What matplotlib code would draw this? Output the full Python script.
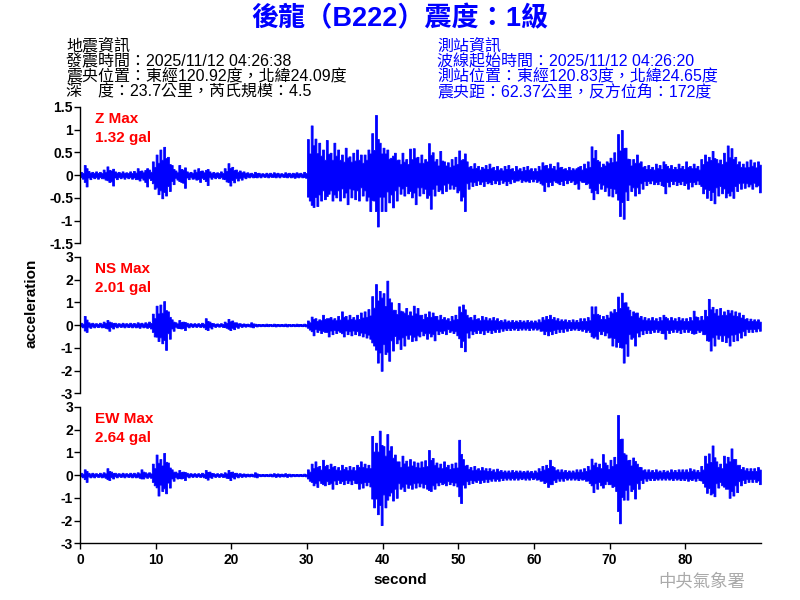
import numpy as np
import matplotlib
matplotlib.use("Agg")
import matplotlib.pyplot as plt

plt.rcParams["axes.unicode_minus"] = False
plt.rcParams["font.family"] = ["Liberation Sans", "Noto Sans CJK TC", "DejaVu Sans"]

# ---- data: envelope of each trace in 0.5 s bins (peak up, then peak down) ----
bin_width = 0.5

z_up = [0.07,0.22,0.09,0.07,0.08,0.07,0.12,0.19,0.10,0.08,0.07,0.08,0.06,0.08,0.09,0.15,0.10,0.11,0.12,0.30,
        0.45,0.56,0.62,0.40,0.22,0.10,0.22,0.12,0.08,0.07,0.12,0.15,0.10,0.11,0.08,0.07,0.06,0.08,0.15,0.26,
        0.18,0.12,0.10,0.08,0.06,0.05,0.07,0.05,0.04,0.05,0.05,0.06,0.05,0.04,0.06,0.05,0.05,0.06,0.05,0.07,
        0.79,1.09,0.80,0.71,0.56,0.77,0.49,0.71,0.56,0.45,0.60,0.41,0.49,0.56,0.45,0.45,0.56,0.92,1.32,0.71,
        0.60,0.56,0.38,0.49,0.34,0.49,0.35,0.58,0.59,0.40,0.45,0.35,0.70,0.50,0.35,0.53,0.30,0.28,0.35,0.40,
        0.54,0.35,0.30,0.20,0.26,0.20,0.18,0.22,0.25,0.18,0.20,0.15,0.20,0.22,0.15,0.20,0.15,0.18,0.20,0.15,
        0.15,0.20,0.28,0.22,0.25,0.20,0.28,0.18,0.15,0.18,0.15,0.15,0.20,0.25,0.30,0.63,0.55,0.30,0.25,0.30,
        0.38,0.50,0.90,0.99,0.60,0.35,0.35,0.45,0.30,0.20,0.22,0.18,0.25,0.22,0.30,0.20,0.22,0.18,0.25,0.20,
        0.30,0.20,0.25,0.20,0.35,0.45,0.40,0.53,0.35,0.34,0.49,0.65,0.59,0.40,0.30,0.25,0.30,0.34,0.28,0.30]
z_dn = [-0.08,-0.25,-0.09,-0.07,-0.08,-0.07,-0.10,-0.15,-0.23,-0.09,-0.07,-0.08,-0.07,-0.08,-0.09,-0.12,-0.10,-0.25,-0.11,-0.30,
        -0.42,-0.51,-0.45,-0.35,-0.20,-0.10,-0.15,-0.28,-0.09,-0.08,-0.10,-0.15,-0.09,-0.22,-0.08,-0.07,-0.07,-0.08,-0.14,-0.23,
        -0.16,-0.12,-0.10,-0.07,-0.05,-0.05,-0.05,-0.05,-0.04,-0.05,-0.04,-0.05,-0.05,-0.04,-0.05,-0.05,-0.06,-0.05,-0.05,-0.06,
        -0.56,-0.70,-0.68,-0.56,-0.53,-0.41,-0.56,-0.49,-0.56,-0.49,-0.64,-0.49,-0.53,-0.56,-0.45,-0.56,-0.79,-0.56,-1.13,-0.79,
        -0.79,-0.60,-0.71,-0.56,-0.41,-0.45,-0.40,-0.49,-0.64,-0.45,-0.40,-0.50,-0.74,-0.45,-0.35,-0.40,-0.35,-0.30,-0.30,-0.38,
        -0.56,-0.79,-0.30,-0.24,-0.22,-0.20,-0.24,-0.18,-0.20,-0.18,-0.20,-0.17,-0.22,-0.18,-0.15,-0.12,-0.15,-0.14,-0.15,-0.14,
        -0.15,-0.18,-0.35,-0.25,-0.22,-0.15,-0.20,-0.22,-0.18,-0.15,-0.20,-0.30,-0.15,-0.20,-0.28,-0.53,-0.40,-0.30,-0.35,-0.45,
        -0.47,-0.40,-0.90,-0.96,-0.55,-0.35,-0.45,-0.40,-0.30,-0.22,-0.18,-0.20,-0.20,-0.22,-0.40,-0.25,-0.20,-0.22,-0.20,-0.22,
        -0.30,-0.25,-0.20,-0.20,-0.40,-0.50,-0.55,-0.62,-0.45,-0.40,-0.49,-0.45,-0.50,-0.35,-0.30,-0.28,-0.25,-0.30,-0.25,-0.38]

ns_up = [0.10,0.40,0.12,0.10,0.08,0.10,0.15,0.22,0.12,0.10,0.08,0.10,0.08,0.10,0.09,0.12,0.10,0.12,0.15,0.50,
         0.85,0.90,1.05,0.60,0.25,0.12,0.22,0.15,0.10,0.08,0.08,0.08,0.10,0.30,0.15,0.08,0.07,0.08,0.15,0.27,
         0.20,0.12,0.08,0.07,0.06,0.12,0.06,0.05,0.05,0.06,0.05,0.06,0.05,0.05,0.06,0.05,0.05,0.06,0.05,0.06,
         0.20,0.37,0.30,0.25,0.45,0.30,0.35,0.30,0.40,0.60,0.40,0.45,0.35,0.45,0.55,0.60,0.70,1.27,1.80,1.50,
         1.40,1.95,1.00,0.67,0.97,0.60,0.75,0.60,0.85,0.75,0.45,0.50,0.60,0.55,0.40,0.45,0.35,0.30,0.40,0.45,
         0.82,0.90,0.45,0.35,0.45,0.30,0.40,0.35,0.30,0.35,0.30,0.22,0.25,0.20,0.22,0.20,0.22,0.20,0.22,0.20,
         0.20,0.25,0.35,0.40,0.45,0.35,0.30,0.25,0.25,0.22,0.25,0.22,0.30,0.30,0.35,0.82,0.82,0.45,0.40,0.45,
         0.60,0.70,1.25,1.42,1.00,0.67,0.60,0.55,0.40,0.35,0.30,0.35,0.30,0.35,0.45,0.30,0.35,0.30,0.35,0.30,
         0.30,0.35,0.63,0.35,0.40,0.67,1.15,0.80,0.70,0.75,0.60,0.67,0.65,0.60,0.55,0.45,0.30,0.28,0.25,0.25]
ns_dn = [-0.10,-0.30,-0.12,-0.10,-0.09,-0.10,-0.12,-0.25,-0.15,-0.10,-0.08,-0.10,-0.09,-0.10,-0.10,-0.12,-0.10,-0.12,-0.15,-0.50,
         -0.70,-0.80,-1.09,-0.60,-0.25,-0.12,-0.15,-0.22,-0.10,-0.08,-0.08,-0.08,-0.10,-0.22,-0.15,-0.08,-0.07,-0.08,-0.12,-0.22,
         -0.18,-0.12,-0.08,-0.07,-0.06,-0.10,-0.06,-0.05,-0.05,-0.05,-0.05,-0.06,-0.05,-0.05,-0.06,-0.05,-0.05,-0.05,-0.05,-0.06,
         -0.20,-0.45,-0.30,-0.35,-0.30,-0.50,-0.40,-0.35,-0.30,-0.50,-0.40,-0.45,-0.40,-0.45,-0.50,-0.55,-0.60,-0.90,-1.65,-2.01,
         -1.27,-1.57,-1.12,-0.80,-1.05,-0.90,-0.60,-0.70,-0.67,-0.50,-0.45,-0.60,-0.50,-0.67,-0.40,-0.35,-0.40,-0.30,-0.35,-0.45,
         -0.97,-1.15,-0.55,-0.40,-0.35,-0.35,-0.40,-0.30,-0.35,-0.30,-0.30,-0.25,-0.22,-0.22,-0.20,-0.22,-0.20,-0.20,-0.22,-0.20,
         -0.20,-0.25,-0.40,-0.45,-0.40,-0.35,-0.30,-0.30,-0.25,-0.22,-0.20,-0.22,-0.25,-0.30,-0.30,-0.55,-0.60,-0.40,-0.45,-0.55,
         -0.90,-0.95,-0.97,-1.65,-1.35,-0.60,-0.90,-0.50,-0.40,-0.35,-0.35,-0.30,-0.30,-0.35,-0.60,-0.35,-0.30,-0.30,-0.35,-0.30,
         -0.30,-0.35,-0.35,-0.30,-0.40,-0.67,-1.12,-0.90,-0.60,-0.70,-0.75,-0.90,-0.70,-0.67,-0.55,-0.45,-0.30,-0.30,-0.28,-0.25]

ew_up = [0.10,0.25,0.10,0.10,0.08,0.10,0.12,0.30,0.15,0.10,0.08,0.10,0.08,0.10,0.10,0.12,0.25,0.12,0.12,0.50,
         0.90,0.70,0.97,0.55,0.25,0.15,0.22,0.15,0.10,0.08,0.08,0.08,0.10,0.22,0.15,0.08,0.08,0.08,0.12,0.22,
         0.15,0.10,0.08,0.07,0.06,0.06,0.12,0.05,0.05,0.05,0.06,0.08,0.07,0.06,0.08,0.06,0.05,0.05,0.05,0.06,
         0.25,0.50,0.60,0.40,0.67,0.45,0.50,0.40,0.35,0.45,0.35,0.40,0.35,0.45,0.60,0.50,0.45,1.72,1.42,1.95,
         1.27,1.80,1.27,0.90,0.60,0.85,0.63,0.70,0.60,0.55,0.60,0.65,1.10,0.75,0.55,0.50,0.60,0.45,0.50,0.55,
         1.55,0.70,0.45,0.35,0.40,0.30,0.35,0.30,0.30,0.25,0.28,0.22,0.20,0.20,0.22,0.20,0.20,0.18,0.20,0.18,
         0.20,0.30,0.40,0.45,0.67,0.35,0.25,0.25,0.22,0.20,0.20,0.25,0.25,0.30,0.40,0.72,0.55,0.50,0.92,0.45,
         0.67,0.80,2.64,1.60,0.90,0.67,0.77,0.50,0.35,0.25,0.25,0.22,0.25,0.20,0.22,0.20,0.25,0.22,0.25,0.25,
         0.25,0.30,0.25,0.22,0.40,0.85,0.95,1.30,0.60,0.50,0.85,0.80,1.17,0.70,0.45,0.35,0.30,0.30,0.30,0.35]
ew_dn = [-0.10,-0.30,-0.10,-0.10,-0.08,-0.10,-0.12,-0.22,-0.15,-0.10,-0.08,-0.10,-0.08,-0.10,-0.10,-0.12,-0.15,-0.12,-0.12,-0.45,
         -0.90,-0.70,-0.80,-0.55,-0.25,-0.15,-0.15,-0.22,-0.10,-0.08,-0.08,-0.08,-0.10,-0.20,-0.12,-0.08,-0.08,-0.08,-0.12,-0.22,
         -0.15,-0.10,-0.08,-0.07,-0.06,-0.06,-0.10,-0.05,-0.05,-0.05,-0.06,-0.08,-0.07,-0.06,-0.08,-0.06,-0.05,-0.05,-0.05,-0.06,
         -0.25,-0.45,-0.52,-0.35,-0.45,-0.40,-0.60,-0.40,-0.35,-0.40,-0.35,-0.40,-0.35,-0.60,-0.55,-0.45,-0.50,-1.42,-1.72,-2.20,
         -1.42,-0.90,-1.12,-1.00,-0.60,-0.70,-0.56,-0.60,-0.55,-0.50,-0.55,-0.60,-0.70,-0.60,-0.45,-0.40,-0.45,-0.40,-0.45,-0.50,
         -1.23,-0.55,-0.40,-0.35,-0.30,-0.35,-0.30,-0.30,-0.25,-0.25,-0.25,-0.22,-0.20,-0.20,-0.20,-0.20,-0.18,-0.20,-0.20,-0.18,
         -0.20,-0.25,-0.35,-0.52,-0.40,-0.30,-0.25,-0.25,-0.20,-0.20,-0.20,-0.22,-0.20,-0.25,-0.35,-0.75,-0.60,-0.45,-0.40,-0.40,
         -0.52,-0.70,-2.12,-1.08,-1.08,-0.70,-1.03,-0.60,-0.35,-0.25,-0.22,-0.22,-0.20,-0.20,-0.20,-0.20,-0.22,-0.20,-0.22,-0.22,
         -0.25,-0.22,-0.25,-0.22,-0.35,-0.78,-0.85,-0.93,-0.55,-0.45,-0.60,-1.00,-0.90,-0.75,-0.45,-0.35,-0.30,-0.30,-0.30,-0.40]

max_names = ["Z Max", "NS Max", "EW Max"]
max_values = ["1.32 gal", "2.01 gal", "2.64 gal"]
y_ticks = [[-1.5, -1, -0.5, 0, 0.5, 1, 1.5], [-3, -2, -1, 0, 1, 2, 3], [-3, -2, -1, 0, 1, 2, 3]]
y_ticklabels = [["-1.5", "-1", "-0.5", "0", "0.5", "1", "1.5"],
                ["-3", "-2", "-1", "0", "1", "2", "3"],
                ["-3", "-2", "-1", "0", "1", "2", "3"]]
x_ticks = [0, 10, 20, 30, 40, 50, 60, 70, 80]
x_max = 90

title = "後龍（B222）震度：1級"
quake_info = ["地震資訊",
              "發震時間：2025/11/12 04:26:38",
              "震央位置：東經120.92度，北緯24.09度",
              "深　度：23.7公里，芮氏規模：4.5"]
station_info = ["測站資訊",
                "波線起始時間：2025/11/12 04:26:20",
                "測站位置：東經120.83度，北緯24.65度",
                "震央距：62.37公里，反方位角：172度"]

# ---- figure ----
BLUE = "#0000FF"
RED = "#FF0000"
TXT_FAM = ["Liberation Sans", "Noto Sans CJK TC", "DejaVu Sans"]

fig = plt.figure(figsize=(8, 6), dpi=100)
fig.patch.set_facecolor("white")

panel_bottoms = [0.5945, 0.3445, 0.0945]
panel_h = 0.2275
left, width = 0.1, 0.851
core_share = 0.6   # solid core relative to the bin's peak

traces = [(z_up, z_dn), (ns_up, ns_dn), (ew_up, ew_dn)]
for k, (up, dn) in enumerate(traces):
    ax = fig.add_axes([left, panel_bottoms[k], width, panel_h])
    up = np.asarray(up)
    dn = np.asarray(dn)
    n = len(up)
    # each bin: up peak in first half, down peak in second half
    x = np.arange(2 * n + 1) * (bin_width / 2)
    hi = np.empty(2 * n + 1)
    lo = np.empty(2 * n + 1)
    hi[0:2 * n:2] = up
    hi[1:2 * n:2] = np.maximum(up, -dn) * core_share
    lo[0:2 * n:2] = np.minimum(dn, -up) * core_share
    lo[1:2 * n:2] = dn
    hi[-1], lo[-1] = hi[-2], lo[-2]
    ax.fill_between(x, lo, hi, step="post", color=BLUE, linewidth=0.6, edgecolor=BLUE)

    lim = y_ticks[k][-1]
    ax.set_ylim(-lim, lim)
    ax.set_xlim(0, x_max)
    ax.set_yticks(y_ticks[k])
    ax.set_yticklabels(y_ticklabels[k])
    for s in ["top", "right"]:
        ax.spines[s].set_visible(False)
    ax.spines["left"].set_linewidth(1.0)
    ax.tick_params(axis="y", direction="out", length=4, width=1, pad=1, labelsize=10)
    for lab in ax.get_yticklabels():
        lab.set_fontweight("bold")
    if k < 2:
        ax.spines["bottom"].set_visible(False)
        ax.set_xticks([])
    else:
        ax.spines["bottom"].set_linewidth(1.0)
        ax.set_xticks(x_ticks)
        ax.set_xticklabels([str(v) for v in x_ticks])
        ax.tick_params(axis="x", direction="out", length=4, width=1, pad=3, labelsize=10)
        for lab in ax.get_xticklabels():
            lab.set_fontweight("bold")

    ax.text(0.022, 0.879, max_names[k], transform=ax.transAxes, color=RED,
            fontsize=11, fontweight="bold", va="baseline", ha="left")
    ax.text(0.022, 0.743, max_values[k], transform=ax.transAxes, color=RED,
            fontsize=11, fontweight="bold", va="baseline", ha="left")

# title and info blocks
fig.text(0.5, 1 - 19 / 600, title, ha="center", va="center", color=BLUE,
         fontsize=19.5, fontweight="bold", family=TXT_FAM)
line_y = [46, 62, 77, 92]
for s, yy in zip(quake_info, line_y):
    fig.text(66 / 800, 1 - yy / 600, s, ha="left", va="center", color="black",
             fontsize=11.5, family=TXT_FAM)
for s, yy in zip(station_info, line_y):
    fig.text(437 / 800, 1 - yy / 600, s, ha="left", va="center", color=BLUE,
             fontsize=11.5, family=TXT_FAM)

fig.text(32 / 800, 1 - 303 / 600, "acceleration", rotation=90, ha="center", va="center",
         fontsize=11, fontweight="bold")
fig.text(400 / 800, 1 - 580 / 600, "second", ha="center", va="center",
         fontsize=11, fontweight="bold")
fig.text(702 / 800, 1 - 581 / 600, "中央氣象署", ha="center", va="center",
         fontsize=12.5, color="#AAAAAA", family=["Noto Sans CJK TC"])

fig.savefig("out.png", dpi=100, facecolor="white")
